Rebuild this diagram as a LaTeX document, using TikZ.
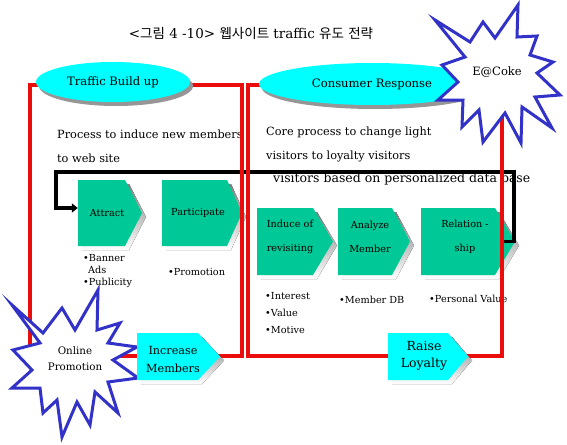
\documentclass[tikz,border=0pt]{standalone}
\usepackage{fontspec}
\setmainfont{DejaVu Serif}
\newfontfamily\kr{Noto Sans CJK KR}
\usetikzlibrary{shapes.geometric,shadows,arrows.meta,calc}
\definecolor{redline}{RGB}{235,12,12}
\definecolor{chevgreen}{RGB}{0,200,150}
\definecolor{starblue}{RGB}{50,50,200}
\definecolor{shade}{RGB}{150,150,150}
\definecolor{aqua}{RGB}{0,255,255}
\tikzset{
  frame/.style={draw=redline, line width=4pt},
  oval/.style={ellipse, fill=aqua, inner sep=0pt,
    drop shadow={shadow xshift=3pt, shadow yshift=-4pt, fill=shade, opacity=1},
    font=\fontsize{11.6}{13}\selectfont},
  desc/.style={anchor=west, inner sep=0pt, font=\fontsize{11.3}{13}\selectfont},
  chevtxt/.style={inner sep=0pt, align=center, font=\fontsize{9.7}{24}\selectfont},
  bullet/.style={anchor=west, inner sep=0pt, font=\fontsize{9.7}{11}\selectfont},
  pentxt/.style={inner sep=0pt, align=center},
  burst/.style={draw=starblue, fill=white, line width=3pt, line join=miter},
  bursttxt/.style={inner sep=0pt, align=center, font=\fontsize{10.3}{16}\selectfont},
  conn/.style={draw=black, line width=3.5pt, line join=miter, -{Triangle[length=6pt,width=9pt]}},
  shapebox/.style={inner sep=0pt, draw=none}
}
% #1 name, #2 x1, #3 y1, #4 x flat end, #5 x tip, #6 y2, #7 fill colour
\newcommand\mychev[7]{%
  \fill[shade, shift={(4,4)}] (#2,#3) -- (#4,#3) -- (#5,{(#3+#6)/2}) -- (#4,#6) -- (#2,#6) -- cycle;
  \fill[#7] (#2,#3) -- (#4,#3) -- (#5,{(#3+#6)/2}) -- (#4,#6) -- (#2,#6) -- cycle;
  \node[shapebox, minimum width={#5-#2}, minimum height={#6-#3}] (#1) at ({(#2+#5)/2},{(#3+#6)/2}) {};
}
\begin{document}
\begin{tikzpicture}[x=1pt, y=-1pt]
\useasboundingbox (0,0) rectangle (567,444);
\fill[white] (0,0) rectangle (567,444);

% title
\node[inner sep=0pt, font=\fontsize{13.5}{16}\selectfont] (title) at (251,33)
  {<{\kr 그림} 4 -10> {\kr 웹사이트} traffic {\kr 유도} {\kr 전략}};

% chevrons
\mychev{attract}{78}{180}{125}{142}{246}{chevgreen}
\mychev{particip}{162}{180}{227}{242}{246}{chevgreen}
\mychev{induce}{257}{208}{313}{333}{275}{chevgreen}
\mychev{analyze}{338}{208}{392}{410}{275}{chevgreen}
\mychev{relship}{421}{208}{495}{515}{275}{chevgreen}

\node[chevtxt] (attract-t) at (107,213) {Attract};
\node[chevtxt] (particip-t) at (198,213) {Participate};
\node[chevtxt] (induce-t) at (290,237) {Induce of\\revisiting};
\node[chevtxt] (analyze-t) at (370,237) {Analyze\\Member};
\node[chevtxt] (relship-t) at (465,237) {Relation -\\ship};

% description texts
\node[desc] (d1) at (57,134) {Process to induce new members};
\node[desc] (d2) at (57,158) {to web site};
\node[desc] (d3) at (266,132) {Core process to change light};
\node[desc] (d4) at (266,156) {visitors to loyalty visitors};
\node[desc, font=\fontsize{12.5}{14}\selectfont] (d5) at (273,179) {visitors based on personalized data base};

% bullets
\node[bullet] (b1) at (83,258) {•Banner};
\node[bullet] (b2) at (88,270) {Ads};
\node[bullet] (b3) at (83,283) {•Publicity};
\node[bullet] (b4) at (168,272) {•Promotion};
\node[bullet] (b5) at (265,296) {•Interest};
\node[bullet] (b6) at (265,313) {•Value};
\node[bullet] (b7) at (265,330) {•Motive};
\node[bullet] (b8) at (339,300) {•Member DB};
\node[bullet] (b9) at (429,299) {•Personal Value};

% feedback connector
\coordinate (loopR) at (514,172);
\coordinate (loopL) at (56,172);
\draw[conn] ($(relship.east)+(-13,0)$) -| (loopR) -- (loopL) |- ($(attract.west)+(0,-5)$);

% red frames
\draw[frame] (30,85) rectangle (242,356);
\draw[frame] (248,85) rectangle (502,356);

% ovals
\node[oval, minimum width=154pt, minimum height=40pt] (traffic) at (113,82) {Traffic Build up};
\node[oval, minimum width=226pt, minimum height=42pt] (consumer) at (372,84) {Consumer Response};

% bursts
\filldraw[burst] (435,20) -- (470,42) -- (483,22) -- (495,38) -- (518,5) -- (517,37) -- (537,36)
  -- (530,55) -- (553,62) -- (537,73) -- (560,95) -- (535,97) -- (552,128) -- (522,107)
  -- (521,143) -- (505,113) -- (483,142) -- (479,110) -- (462,127) -- (463,100) -- (438,100)
  -- (458,82) -- (442,65) -- (465,57) -- cycle;
\node[bursttxt, font=\fontsize{11.5}{14}\selectfont] (ecoke) at (497,72) {E@Coke};

\filldraw[burst] (12,305) -- (43,333) -- (62,308) -- (75,330) -- (98,290) -- (97,330) -- (120,323)
  -- (108,343) -- (137,347) -- (113,360) -- (138,378) -- (108,382) -- (118,413) -- (95,392)
  -- (90,425) -- (77,402) -- (62,437) -- (57,400) -- (43,413) -- (40,388) -- (12,388)
  -- (32,370) -- (13,350) -- (40,343) -- cycle;
\node[bursttxt] (online) at (75,359) {Online\\Promotion};

% pentagons
\mychev{increase}{137}{333}{198}{220}{380}{aqua}
\mychev{raise}{388}{333}{448}{468}{380}{aqua}
\node[pentxt, font=\fontsize{11.2}{18}\selectfont] (increase-t) at (173,359) {Increase\\Members};
\node[pentxt, font=\fontsize{12.5}{17}\selectfont] (raise-t) at (424,356) {Raise\\Loyalty};
\end{tikzpicture}
\end{document}
